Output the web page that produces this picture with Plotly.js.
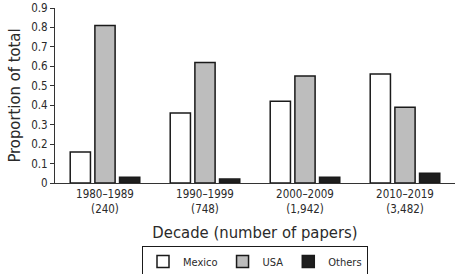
<!DOCTYPE html>
<html>
<head>
<meta charset="utf-8">
<script src="https://cdn.plot.ly/plotly-3.0.1.min.js"></script>
<style>html,body{margin:0;padding:0;background:#fff;}#chart{width:457px;height:274px;}</style>
</head>
<body>
<div id="chart"></div>
<script>
var decades = ["1980–1989<br>(240)", "1990–1999<br>(748)", "2000–2009<br>(1,942)", "2010–2019<br>(3,482)"];
var mexico = [0.16, 0.36, 0.42, 0.56];
var usa = [0.81, 0.62, 0.55, 0.39];
var others = [0.03, 0.02, 0.03, 0.05];
var yTicks = [0, 0.1, 0.2, 0.3, 0.4, 0.5, 0.6, 0.7, 0.8, 0.9];

var FONT = '"DejaVu Sans Condensed", "Liberation Sans Narrow", "Liberation Sans", Arial, sans-serif';
function tr(name, vals, color) {
  return {type: 'bar', name: name, x: decades, y: vals,
    marker: {color: color, line: {color: '#1a1a1a', width: 1.5}}};
}
var data = [tr('Mexico', mexico, '#ffffff'), tr('USA', usa, '#bdbdbd'), tr('Others', others, '#1e1e1e')];
var layout = {
  width: 457, height: 274,
  margin: {l: 55, r: 2, t: 8, b: 91, autoexpand: false},
  paper_bgcolor: '#fff', plot_bgcolor: '#fff',
  font: {family: FONT, color: '#2a2a2a', size: 12},
  barmode: 'group', bargap: 0.26, bargroupgap: 0.18,
  showlegend: true,
  legend: {orientation: 'h', x: 0.5, xanchor: 'center', y: -0.36, yanchor: 'top',
    bordercolor: '#1a1a1a', borderwidth: 1, font: {size: 11, family: FONT},
    itemwidth: 30, tracegroupgap: 0, traceorder: 'normal'},
  xaxis: {showline: true, linecolor: '#333', linewidth: 1, ticks: '', showgrid: false,
    tickfont: {size: 11.5, family: FONT}, automargin: false,
    title: {text: 'Decade (number of papers)', font: {size: 16.5, family: FONT}, standoff: 11}},
  yaxis: {range: [0, 0.9], tickvals: yTicks, ticktext: yTicks.map(String),
    showline: true, linecolor: '#333', linewidth: 1, ticks: 'outside', ticklen: 4,
    tickcolor: '#333', showgrid: false, zeroline: false, automargin: false,
    tickfont: {size: 11.5, family: FONT},
    title: {text: 'Proportion of total', font: {size: 16.5, family: FONT}, standoff: 6}}
};
Plotly.newPlot('chart', data, layout, {displayModeBar: false, staticPlot: true});
</script>
</body>
</html>
